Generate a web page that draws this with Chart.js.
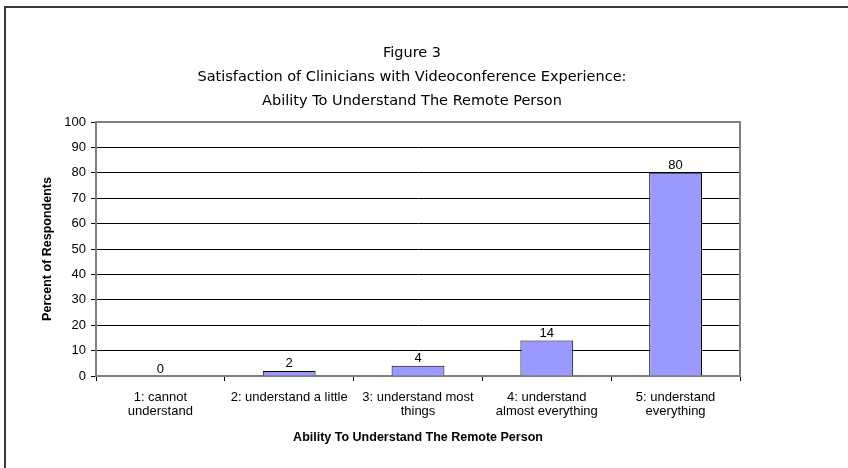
<!DOCTYPE html>
<html>
<head>
<meta charset="utf-8">
<script src="https://cdn.jsdelivr.net/npm/chart.js@4"></script>
<style>
  html, body { margin: 0; padding: 0; background: #fff; }
  canvas { display: block; }
</style>
</head>
<body>
<canvas id="c" width="848" height="468"></canvas>
<script>
const titleLines = [
  "Figure 3",
  "Satisfaction of Clinicians with Videoconference Experience:",
  "Ability To Understand The Remote Person"
];
const categories = [
  ["1: cannot", "understand"],
  ["2: understand a little"],
  ["3: understand most", "things"],
  ["4: understand", "almost everything"],
  ["5: understand", "everything"]
];
const percentValues = [0, 2, 4, 14, 80];
const yAxisTitle = "Percent of Respondents";
const xAxisTitle = "Ability To Understand The Remote Person";

const ARIAL = '"Liberation Sans", Arial, sans-serif';

const framePlugin = {
  id: 'frame',
  beforeDraw(chart) {
    const ctx = chart.ctx;
    ctx.save();
    ctx.fillStyle = '#fff';
    ctx.fillRect(0, 0, chart.width, chart.height);
    ctx.strokeStyle = '#3a3a3a';
    ctx.lineWidth = 2;
    ctx.beginPath();
    ctx.moveTo(5, chart.height + 10);
    ctx.lineTo(5, 7);
    ctx.lineTo(chart.width + 10, 7);
    ctx.stroke();
    ctx.restore();
  },
  beforeDatasetsDraw(chart) {
    const a = chart.chartArea, ctx = chart.ctx;
    ctx.save();
    ctx.strokeStyle = '#808080';
    ctx.lineWidth = 2;
    ctx.strokeRect(a.left, a.top, a.right - a.left, a.bottom - a.top);
    ctx.restore();
  },
  afterDraw(chart) {
    const ctx = chart.ctx;
    ctx.save();
    ctx.fillStyle = '#000';
    ctx.font = '14.5px "DejaVu Sans", Tahoma, sans-serif';
    ctx.textAlign = 'center';
    ctx.textBaseline = 'middle';
    const ys = [53, 77, 101];
    titleLines.forEach((t, i) => ctx.fillText(t, 412, ys[i]));
    ctx.restore();
  }
};

const labelPlugin = {
  id: 'barLabels',
  afterDatasetsDraw(chart) {
    const ctx = chart.ctx;
    ctx.save();
    ctx.fillStyle = '#000';
    ctx.font = '13px ' + ARIAL;
    ctx.textAlign = 'center';
    ctx.textBaseline = 'middle';
    chart.getDatasetMeta(0).data.forEach((el, i) => {
      ctx.fillText(String(percentValues[i]), el.x, el.y - 7);
    });
    ctx.restore();
  }
};

new Chart(document.getElementById('c'), {
  type: 'bar',
  data: {
    labels: categories,
    datasets: [{
      data: percentValues,
      backgroundColor: '#9999FF',
      borderColor: '#000',
      borderWidth: 1,
      categoryPercentage: 1,
      barPercentage: 0.41
    }]
  },
  options: {
    responsive: false,
    animation: false,
    devicePixelRatio: 1,
    layout: { padding: { left: 40, right: 108, top: 122, bottom: 23 } },
    plugins: {
      legend: { display: false },
      tooltip: { enabled: false },
      title: { display: false }
    },
    scales: {
      x: {
        offset: true,
        grid: { offset: true, drawOnChartArea: false, drawTicks: true, tickLength: 5, color: '#000', lineWidth: 1 },
        border: { color: '#000', width: 1 },
        ticks: {
          color: '#000',
          font: { family: ARIAL, size: 13, lineHeight: 1.12 },
          padding: 9,
          maxRotation: 0,
          autoSkip: false
        },
        title: {
          display: true,
          text: xAxisTitle,
          color: '#000',
          font: { family: ARIAL, size: 12.5, weight: 'bold', lineHeight: 1.2 },
          padding: { top: 0, bottom: 0 }
        },
        afterFit(scale) { scale.height = 69; }
      },
      y: {
        min: 0,
        max: 100,
        grid: { color: '#000', lineWidth: 1, drawTicks: true, tickLength: 5 },
        border: { color: '#000', width: 1 },
        ticks: {
          stepSize: 10,
          color: '#000',
          padding: 5,
          font: { family: ARIAL, size: 13 }
        },
        title: {
          display: true,
          text: yAxisTitle,
          color: '#000',
          font: { family: ARIAL, size: 12.5, weight: 'bold', lineHeight: 1.2 },
          padding: { top: 0, bottom: 0 }
        },
        afterFit(scale) { scale.width = 56; }
      }
    }
  },
  plugins: [framePlugin, labelPlugin]
});
</script>
</body>
</html>
